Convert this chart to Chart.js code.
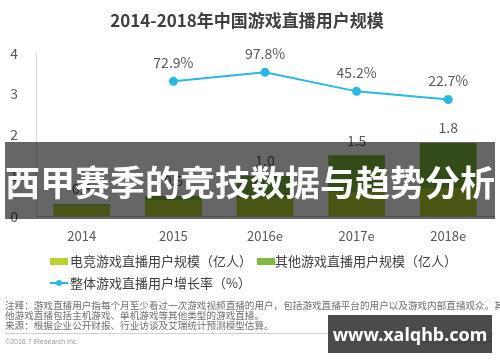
<!DOCTYPE html>
<html>
<head>
<meta charset="utf-8">
<script src="https://cdn.jsdelivr.net/npm/chart.js@4"></script>
<style>
  body { margin: 0; background: #fff; font-family: "Noto Sans CJK SC", sans-serif; }
  #wrap { position: relative; width: 500px; height: 362px; overflow: hidden; }
  #chartBox { position: absolute; left: 0; top: 0; width: 500px; height: 258px; }
  .leg { position: absolute; font-size: 13px; color: #404040; line-height: 16px; white-space: nowrap; }
  .sw { position: absolute; width: 18px; height: 7px; }
  .notes { position: absolute; left: 5px; top: 300px; font-size: 9.6px; line-height: 10px; color: #707070; white-space: nowrap; }
  .rule { position: absolute; left: 5px; top: 333px; width: 488px; height: 1px; background: #cfcfcf; }
  .copy { position: absolute; top: 338px; font-size: 7px; color: #9a9a9a; font-family: "Liberation Sans", sans-serif; }
  .banner { position: absolute; left: 5px; top: 142px; width: 490px; height: 77px; background: rgba(0,0,0,0.6);
            color: #fff; font-weight: bold; font-size: 35px; line-height: 77px; text-align: center; white-space: nowrap; }
  .mark { position: absolute; left: 328px; top: 315px; width: 164px; height: 38px; background: rgba(50,50,50,0.88);
          color: #fff; font-family: "Noto Sans", sans-serif; font-weight: bold; font-size: 18px; line-height: 38px; text-align: center; }
</style>
</head>
<body>
<div id="wrap">
  <div id="chartBox"><canvas id="c"></canvas></div>

  <div class="sw" style="left:50px;top:258px;background:#b7d433"></div>
  <div class="leg" style="left:70px;top:253px">电竞游戏直播用户规模（亿人）</div>
  <div class="sw" style="left:257px;top:258px;background:#80bb3f"></div>
  <div class="leg" style="left:275px;top:253px">其他游戏直播用户规模（亿人）</div>
  <div style="position:absolute;left:50px;top:282px;width:18px;height:2px;background:#29b8e5"></div>
  <div style="position:absolute;left:56px;top:280px;width:6px;height:6px;border-radius:3px;background:#29b8e5"></div>
  <div class="leg" style="left:70px;top:275px">整体游戏直播用户增长率（%）</div>

  <div class="notes">注释：游戏直播用户指每个月至少看过一次游戏视频直播的用户，包括游戏直播平台的用户以及游戏内部直播观众。其<br>他游戏直播包括主机游戏、单机游戏等其他类型的游戏直播。<br>来源：根据企业公开财报、行业访谈及艾瑞统计预测模型估算。</div>
  <div class="rule"></div>
  <div class="copy" style="left:5px">©2016.7 iResearch Inc.</div>
  <div class="copy" style="right:8px">www.iresearch.com.cn</div>

  <div class="banner">西甲赛季的竞技数据与趋势分析</div>
  <div class="mark">www.xalqhb.com</div>
</div>

<script>
// data
const years = ["2014", "2015", "2016e", "2017e", "2018e"];
const esportsUsers = [0.25, 0.4, 0.45, 0.6, 0.7];   // 亿人
const otherUsers = [0.05, 0.1, 0.55, 0.9, 1.1];     // 亿人
const growthRate = [null, 72.9, 97.8, 45.2, 22.7];  // %
const totals = [0.3, 0.5, 1.0, 1.5, 1.8];
const yTicks = [0, 1, 2, 3, 4];

const labelColor = "#595959";
const cjk = "'Noto Sans CJK SC', 'Noto Sans', sans-serif";

// value labels over bars and line points
const valueLabels = {
  id: "valueLabels",
  afterDatasetsDraw(chart) {
    const ctx = chart.ctx;
    ctx.save();
    ctx.fillStyle = labelColor;
    ctx.textAlign = "center";
    ctx.textBaseline = "middle";
    ctx.font = "14px " + cjk;
    const barMeta = chart.getDatasetMeta(1);
    barMeta.data.forEach((el, i) => {
      ctx.fillText(totals[i].toFixed(1), el.x, el.y - 15);
    });
    const lineMeta = chart.getDatasetMeta(2);
    lineMeta.data.forEach((el, i) => {
      if (growthRate[i] == null) return;
      ctx.fillText(growthRate[i].toFixed(1) + "%", el.x, el.y - 19);
    });
    ctx.restore();
  }
};

new Chart(document.getElementById("c"), {
  data: {
    labels: years,
    datasets: [
      {
        type: "bar",
        label: "电竞游戏直播用户规模（亿人）",
        data: esportsUsers,
        backgroundColor: "#b7d433",
        yAxisID: "y",
        barPercentage: 0.62,
        categoryPercentage: 1,
        order: 2
      },
      {
        type: "bar",
        label: "其他游戏直播用户规模（亿人）",
        data: otherUsers,
        backgroundColor: "#80bb3f",
        yAxisID: "y",
        barPercentage: 0.62,
        categoryPercentage: 1,
        order: 2
      },
      {
        type: "line",
        label: "整体游戏直播用户增长率（%）",
        data: growthRate,
        borderColor: "#29b8e5",
        backgroundColor: "#29b8e5",
        borderWidth: 2,
        pointRadius: 3.5,
        tension: 0,
        yAxisID: "y1",
        order: 1
      }
    ]
  },
  options: {
    responsive: true,
    maintainAspectRatio: false,
    animation: false,
    layout: { padding: { left: 0, right: 6, top: 0, bottom: 2 } },
    plugins: {
      legend: { display: false },
      tooltip: { enabled: false },
      title: {
        display: true,
        text: "2014-2018年中国游戏直播用户规模",
        color: "#404040",
        font: { family: cjk, size: 17, weight: "bold" },
        padding: { top: 10, bottom: 23 }
      }
    },
    scales: {
      x: {
        stacked: true,
        grid: { display: false, drawTicks: false },
        border: { color: "#bfbfbf" },
        ticks: { color: labelColor, font: { family: cjk, size: 13 }, padding: 12 }
      },
      y: {
        stacked: true,
        min: 0,
        max: 4,
        afterBuildTicks(scale) { scale.ticks = yTicks.map(v => ({ value: v })); },
        afterFit(scale) { scale.width = 36; },
        grid: { display: false, drawTicks: false },
        border: { color: "#d9d9d9" },
        ticks: { color: labelColor, font: { family: cjk, size: 14 }, padding: 18 }
      },
      y1: {
        position: "right",
        display: false,
        min: -300,
        max: 150
      }
    }
  },
  plugins: [valueLabels]
});
</script>
</body>
</html>
